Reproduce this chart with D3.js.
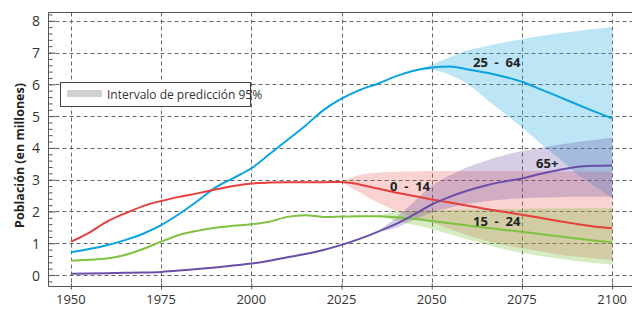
<!DOCTYPE html>
<html>
<head>
<meta charset="utf-8">
<script src="https://cdn.jsdelivr.net/npm/d3@7"></script>
<style>
  body { margin: 0; background: #fff; }
  svg { font-family: "Open Sans", sans-serif; }
</style>
</head>
<body>
<script>
// historical + projected median, every 5 years
const years = d3.range(1950, 2101, 5);
const adultos = [0.72, 0.82, 0.94, 1.1, 1.3, 1.57, 1.92, 2.32, 2.75, 3.05, 3.36, 3.8, 4.25, 4.7, 5.19, 5.55,
  5.82, 6.02, 6.25, 6.43, 6.53, 6.56, 6.47, 6.37, 6.24, 6.08, 5.85, 5.62, 5.38, 5.15, 4.93];
const ninos = [1.05, 1.33, 1.68, 1.94, 2.17, 2.33, 2.46, 2.57, 2.69, 2.8, 2.88, 2.91, 2.92, 2.92, 2.92, 2.93,
  2.85, 2.72, 2.6, 2.49, 2.38, 2.28, 2.18, 2.08, 1.99, 1.9, 1.8, 1.7, 1.61, 1.53, 1.47];
const jovenes = [0.45, 0.48, 0.52, 0.63, 0.82, 1.05, 1.26, 1.39, 1.49, 1.55, 1.6, 1.68, 1.83, 1.88, 1.83, 1.84,
  1.85, 1.85, 1.82, 1.77, 1.7, 1.63, 1.56, 1.49, 1.42, 1.36, 1.29, 1.22, 1.15, 1.09, 1.03];
const mayores = [0.04, 0.05, 0.06, 0.07, 0.08, 0.1, 0.14, 0.19, 0.24, 0.3, 0.36, 0.45, 0.56, 0.66, 0.79, 0.95,
  1.14, 1.36, 1.6, 1.9, 2.22, 2.46, 2.66, 2.82, 2.94, 3.04, 3.18, 3.3, 3.4, 3.44, 3.45];

// 95% prediction intervals
const bandAdultosYears = d3.range(2045, 2101, 5);
const bandAdultosLo = [6.43, 6.45, 6.3, 6.0, 5.55, 5.1, 4.65, 4.15, 3.7, 3.2, 2.8, 2.42];
const bandAdultosHi = [6.43, 6.62, 6.85, 7.07, 7.2, 7.32, 7.42, 7.52, 7.6, 7.67, 7.74, 7.8];

const bandNinosYears = d3.range(2025, 2101, 5);
const bandNinosLo = [2.93, 2.6, 2.28, 2.02, 1.82, 1.65, 1.45, 1.25, 1.08, 0.95, 0.84, 0.75, 0.65, 0.58, 0.52, 0.47];
const bandNinosHi = [2.93, 3.15, 3.22, 3.25, 3.26, 3.27, 3.27, 3.27, 3.27, 3.27, 3.27, 3.27, 3.26, 3.26, 3.26, 3.26];

const bandJovenesYears = d3.range(2035, 2101, 5);
const bandJovenesLo = [1.85, 1.72, 1.58, 1.45, 1.28, 1.12, 0.97, 0.82, 0.7, 0.6, 0.52, 0.44, 0.38, 0.33];
const bandJovenesHi = [1.85, 1.98, 2.02, 2.04, 2.05, 2.06, 2.07, 2.08, 2.08, 2.09, 2.09, 2.1, 2.1, 2.1];

const bandMayoresYears = d3.range(2035, 2101, 5);
const bandMayoresLo = [1.36, 1.48, 1.74, 1.96, 2.12, 2.24, 2.32, 2.38, 2.42, 2.44, 2.45, 2.46, 2.46, 2.47];
const bandMayoresHi = [1.36, 1.8, 2.3, 2.8, 3.13, 3.4, 3.6, 3.77, 3.9, 4.0, 4.1, 4.18, 4.25, 4.32];

const xTicks = [1950, 1975, 2000, 2025, 2050, 2075, 2100];
const yTicks = [0, 1, 2, 3, 4, 5, 6, 7, 8];

const W = 632, H = 309;
const margin = {top: 12.5, right: 0, bottom: 22.5, left: 48.5};

const svg = d3.select('body').append('svg')
  .attr('width', W)
  .attr('height', H);

const x = d3.scaleLinear().domain([1943.8, 2105.5]).range([margin.left, W]);
const y = d3.scaleLinear().domain([-0.36, 8.26]).range([H - margin.bottom, margin.top]);

// grid
const grid = svg.append('g').attr('stroke', '#666').attr('stroke-dasharray', '4,3').attr('stroke-width', 1);
grid.selectAll('.gx').data(xTicks).enter().append('line')
  .attr('x1', d => Math.round(x(d)) + 0.5).attr('x2', d => Math.round(x(d)) + 0.5)
  .attr('y1', margin.top).attr('y2', H - margin.bottom);
grid.selectAll('.gy').data(yTicks).enter().append('line')
  .attr('x1', margin.left).attr('x2', W)
  .attr('y1', d => Math.round(y(d)) + 0.5).attr('y2', d => Math.round(y(d)) + 0.5);

// bands
const area = d3.area().curve(d3.curveMonotoneX)
  .x(d => x(d.year)).y0(d => y(d.lo)).y1(d => y(d.hi));

function band(yrs, lo, hi, color, op) {
  const pts = yrs.map((yr, i) => ({year: yr, lo: lo[i], hi: hi[i]}));
  svg.append('path').datum(pts)
    .attr('d', area)
    .attr('fill', color)
    .attr('fill-opacity', op);
}
band(bandAdultosYears, bandAdultosLo, bandAdultosHi, '#20a8e0', 0.3);
band(bandNinosYears, bandNinosLo, bandNinosHi, '#e84a4a', 0.25);
band(bandJovenesYears, bandJovenesLo, bandJovenesHi, '#7dc242', 0.32);
band(bandMayoresYears, bandMayoresLo, bandMayoresHi, '#6a4ea0', 0.28);

// lines
const line = d3.line().curve(d3.curveMonotoneX)
  .x((d, i) => x(years[i])).y(d => y(d));

const series = [
  {vals: adultos, color: '#0aa3e2'},
  {vals: ninos, color: '#e53e3b'},
  {vals: jovenes, color: '#7ec241'},
  {vals: mayores, color: '#6a4ea8'}
];
svg.selectAll('.serie').data(series).enter().append('path')
  .attr('fill', 'none')
  .attr('stroke', d => d.color)
  .attr('stroke-width', 2)
  .attr('d', d => line(d.vals));

// series labels
const labels = [
  {t: '25  -  64', year: 2068, v: 6.7},
  {t: '0  -  14', year: 2044, v: 2.8},
  {t: '15  -  24', year: 2068, v: 1.7},
  {t: '65+', year: 2082, v: 3.52}
];
svg.selectAll('.lab').data(labels).enter().append('text')
  .attr('x', d => x(d.year)).attr('y', d => y(d.v))
  .attr('text-anchor', 'middle').attr('dominant-baseline', 'central')
  .attr('font-size', 13).attr('font-weight', 'bold').attr('fill', '#222')
  .style('white-space', 'pre')
  .text(d => d.t);

// frame
svg.append('line').attr('x1', margin.left).attr('x2', margin.left)
  .attr('y1', margin.top).attr('y2', H - margin.bottom).attr('stroke', '#555');
svg.append('line').attr('x1', margin.left).attr('x2', W)
  .attr('y1', H - margin.bottom).attr('y2', H - margin.bottom).attr('stroke', '#555');
svg.append('line').attr('x1', margin.left).attr('x2', W)
  .attr('y1', margin.top).attr('y2', margin.top).attr('stroke', '#555');

// y axis: major ticks inside, minor ticks every 0.2
const yAxis = d3.axisRight(y).tickValues(yTicks).tickSize(7).tickFormat('');
svg.append('g').attr('transform', `translate(${margin.left},0)`).call(yAxis)
  .call(g => g.select('.domain').remove())
  .selectAll('line').attr('stroke', '#555');
const minor = d3.range(-0.2, 8.3, 0.2).filter(v => Math.abs(v - Math.round(v)) > 0.05);
svg.append('g').attr('transform', `translate(${margin.left},0)`)
  .call(d3.axisRight(y).tickValues(minor).tickSize(4).tickFormat(''))
  .call(g => g.select('.domain').remove())
  .selectAll('line').attr('stroke', '#555');
svg.selectAll('.ylab').data(yTicks).enter().append('text')
  .attr('x', 40).attr('y', d => y(d))
  .attr('text-anchor', 'end').attr('dominant-baseline', 'central')
  .attr('font-size', 14).attr('fill', '#333')
  .text(d => d);

// x axis
svg.append('g').attr('transform', `translate(0,${H - margin.bottom - 3})`)
  .call(d3.axisBottom(x).tickValues(xTicks).tickSize(6).tickFormat(''))
  .call(g => g.select('.domain').remove())
  .selectAll('line').attr('stroke', '#555');
svg.selectAll('.xlab').data(xTicks).enter().append('text')
  .attr('x', d => x(d)).attr('y', 299)
  .attr('text-anchor', 'middle').attr('dominant-baseline', 'central')
  .attr('font-size', 13).attr('fill', '#333')
  .text(d => d);

// y title
svg.append('text')
  .attr('transform', `translate(19,${(margin.top + H - margin.bottom) / 2 + 6}) rotate(-90)`)
  .attr('text-anchor', 'middle').attr('dominant-baseline', 'central')
  .attr('font-size', 12.5).attr('font-weight', 'bold').attr('fill', '#222')
  .text('Población (en millones)');

// legend
const leg = svg.append('g');
leg.append('rect').attr('x', 60.5).attr('y', 82.5).attr('width', 190).attr('height', 24)
  .attr('fill', '#fff').attr('stroke', '#444');
leg.append('rect').attr('x', 67).attr('y', 90).attr('width', 35).attr('height', 7).attr('fill', '#d0d0d0');
leg.append('text').attr('x', 107).attr('y', 94.5)
  .attr('dominant-baseline', 'central').attr('font-size', 12).attr('fill', '#333')
  .text('Intervalo de predicción 95%');
</script>
</body>
</html>
